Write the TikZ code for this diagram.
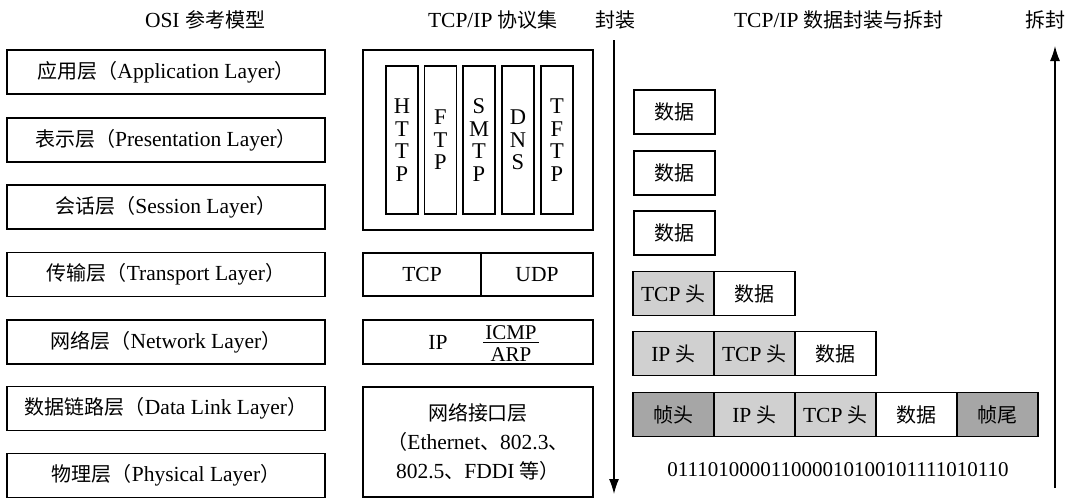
\documentclass[tikz,border=0pt]{standalone}
\usepackage{fontspec}
\setmainfont{Liberation Serif}
\newfontfamily\cjk[Scale=0.93]{Noto Sans CJK SC}
\newcommand\zh[1]{{\cjk #1}}
\usetikzlibrary{arrows.meta}
\definecolor{hdrlight}{HTML}{D0D0D0}
\definecolor{hdrdark}{HTML}{A6A6A6}
\tikzset{
  base/.style={font=\fontsize{21.5}{25}\selectfont, inner sep=0pt},
  ttl/.style={base},
  frac/.style={base, font=\fontsize{21}{22}\selectfont},
  boxline/.style={draw, line width=1.4pt},
  layer/.style={base, boxline, minimum width=318pt, minimum height=44pt},
  suite/.style={base, boxline, minimum width=230pt},
  proto/.style={base, boxline, minimum width=32pt, minimum height=148pt, align=center, font=\fontsize{22.5}{22.5}\selectfont},
  cell/.style={base, boxline, minimum width=81pt, minimum height=44pt},
  flow/.style={line width=1.2pt, -{Latex[length=15pt,width=10pt]}}
}
\begin{document}
\begin{tikzpicture}[x=1pt,y=-1pt]
\useasboundingbox (0,0) rectangle (1072,499);
% titles
\node[ttl] (t1) at (205,20) {OSI \zh{参考模型}};
\node[ttl] (t2) at (493,20) {TCP/IP \zh{协议集}};
\node[ttl] (t3) at (615,20) {\zh{封装}};
\node[ttl] (t4) at (839,20) {TCP/IP \zh{数据封装与拆封}};
\node[ttl] (t5) at (1045,20) {\zh{拆封}};
% OSI layers
\node[layer] (l7) at (166,72) {\zh{应用层（}Application Layer\zh{）}};
\node[layer] (l6) at (166,140) {\zh{表示层（}Presentation Layer\zh{）}};
\node[layer] (l5) at (166,207) {\zh{会话层（}Session Layer\zh{）}};
\node[layer] (l4) at (166,274.5) {\zh{传输层（}Transport Layer\zh{）}};
\node[layer] (l3) at (166,342) {\zh{网络层（}Network Layer\zh{）}};
\node[layer] (l2) at (166,408.5) {\zh{数据链路层（}Data Link Layer\zh{）}};
\node[layer] (l1) at (166,475.5) {\zh{物理层（}Physical Layer\zh{）}};
% TCP/IP suite
\node[suite, minimum height=180pt] (app) at (478,140) {};
\node[proto] (http) at (402,140) {H\\T\\T\\P};
\node[proto] (ftp) at (440.5,140) {F\\T\\P};
\node[proto] (smtp) at (479,140) {S\\M\\T\\P};
\node[proto] (dns) at (518,140) {D\\N\\S};
\node[proto] (tftp) at (557,140) {T\\F\\T\\P};
\node[base, boxline, minimum width=118pt, minimum height=43pt] (tcp) at (422,274.5) {TCP};
\node[base, boxline, minimum width=112pt, minimum height=43pt] (udp) at (537,274.5) {UDP};
\node[suite, minimum height=44pt] (ipbox) at (478,342) {};
\node[base] (ip) at (438,342) {IP};
\node[frac] (icmp) at (511,332.5) {ICMP};
\node[frac] (arp) at (511,354.5) {ARP};
\draw[line width=1pt] ([xshift=-2pt,yshift=-2.5pt]icmp.south west) -- ([xshift=2pt,yshift=-2.5pt]icmp.south east);
\node[suite, minimum height=110pt, align=center, font=\fontsize{21.5}{29}\selectfont] (nif) at (478,442)
  {\zh{网络接口层}\\\zh{（}Ethernet\zh{、}802.3\zh{、}\\802.5\zh{、}FDDI \zh{等）}};
% encapsulation arrows
\coordinate (encTop) at (614,40);
\coordinate (encBot) at (614,494);
\draw[flow] (encTop) -- (encBot);
\coordinate (decBot) at (1055,488);
\coordinate (decTop) at (1055,46);
\draw[flow] (decBot) -- (decTop);
% data boxes
\node[cell] (d1) at (674.5,112) {\zh{数据}};
\node[cell] (d2) at (674.5,173) {\zh{数据}};
\node[cell] (d3) at (674.5,233) {\zh{数据}};
\node[cell, fill=hdrlight] (s1) at (673.5,293.5) {TCP \zh{头}};
\node[cell] (s2) at (754.5,293.5) {\zh{数据}};
\node[cell, fill=hdrlight] (p1) at (673.5,353.5) {IP \zh{头}};
\node[cell, fill=hdrlight] (p2) at (754.5,353.5) {TCP \zh{头}};
\node[cell] (p3) at (835.5,353.5) {\zh{数据}};
\node[cell, fill=hdrdark] (f1) at (673.5,414.5) {\zh{帧头}};
\node[cell, fill=hdrlight] (f2) at (754.5,414.5) {IP \zh{头}};
\node[cell, fill=hdrlight] (f3) at (835.5,414.5) {TCP \zh{头}};
\node[cell] (f4) at (916.5,414.5) {\zh{数据}};
\node[cell, fill=hdrdark] (f5) at (997.5,414.5) {\zh{帧尾}};
\node[base, font=\fontsize{21}{24}\selectfont] (bits) at (838,470) {011101000011000010100101111010110};
\end{tikzpicture}
\end{document}
